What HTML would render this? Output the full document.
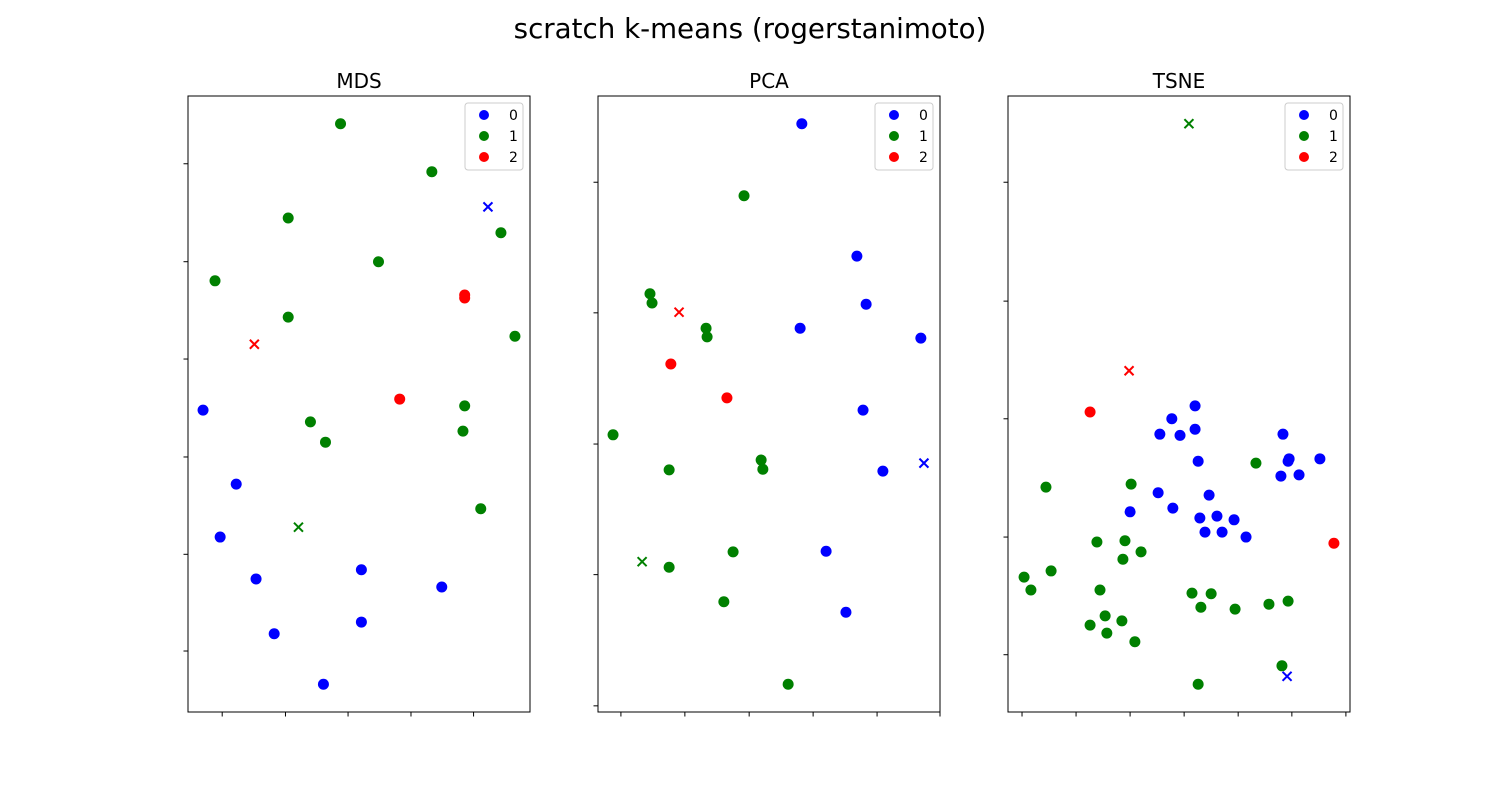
<!DOCTYPE html>
<html><head><meta charset="utf-8"><style>
body{margin:0;background:#fff;}
svg{display:block;font-family:"DejaVu Sans","Liberation Sans",sans-serif;}
</style></head><body>
<svg id="fig" width="1500" height="800" xmlns="http://www.w3.org/2000/svg">
<rect width="1500" height="800" fill="#fff"/>
<text x="750" y="38" text-anchor="middle" font-size="27.7">scratch k-means (rogerstanimoto)</text>
</svg>
<script>
// MDS data (x,y in 0-100 units)
const mdsBlueX=[4.4,14.1,9.4,19.9,25.2,39.6,50.7,50.7,74.2];
const mdsBlueY=[49.0,37.0,28.4,21.6,12.7,4.5,23.1,14.6,20.3];
const mdsGreenX=[44.6,71.3,29.3,91.5,7.9,55.7,29.3,95.6,35.8,40.2,80.9,80.4,85.6];
const mdsGreenY=[95.5,87.7,80.2,77.8,70.0,73.1,64.1,61.0,47.1,43.8,49.7,45.6,33.0];
const mdsRedX=[80.9,80.9,61.9];
const mdsRedY=[67.7,67.2,50.8];
const mdsCentX=[87.7,32.3,19.4];
const mdsCentY=[82.0,30.0,59.7];
// PCA data
const pcaBlueX=[59.6,75.7,78.4,59.1,94.4,77.5,83.3,66.7,72.5];
const pcaBlueY=[95.5,74.0,66.2,62.3,60.7,49.0,39.1,26.1,16.2];
const pcaGreenX=[42.7,15.2,15.8,31.6,31.9,4.4,20.8,47.7,48.2,39.5,20.8,36.8,55.6];
const pcaGreenY=[83.8,67.9,66.4,62.3,60.9,45.0,39.3,40.9,39.4,26.0,23.5,17.9,4.5];
const pcaRedX=[21.3,37.7];
const pcaRedY=[56.5,51.0];
const pcaCentX=[95.3,12.9,23.7];
const pcaCentY=[40.4,24.4,64.9];
// TSNE data
const tsneBlueX=[54.7,47.9,44.4,50.3,54.7,80.4,55.6,82.2,81.9,91.2,79.8,85.1,43.9,58.8,35.7,48.2,56.1,61.1,66.1,57.6,62.6,69.6];
const tsneBlueY=[49.7,47.6,45.1,44.9,45.9,45.1,40.7,41.1,40.7,41.1,38.3,38.5,35.6,35.2,32.5,33.1,31.5,31.8,31.2,29.2,29.2,28.4];
const tsneGreenX=[11.1,36.0,72.5,26.0,34.2,38.9,33.6,4.7,12.6,6.7,26.9,53.8,59.4,56.4,66.4,76.3,81.9,28.4,24.0,33.3,28.9,37.1,80.1,55.6];
const tsneGreenY=[36.5,37.0,40.4,27.6,27.8,26.0,24.8,21.9,22.9,19.8,19.8,19.3,19.2,17.0,16.7,17.5,18.0,15.6,14.1,14.8,12.8,11.4,7.5,4.5];
const tsneRedX=[24.0,95.3];
const tsneRedY=[48.7,27.4];
const tsneCentX=[81.6,52.9,35.4];
const tsneCentY=[5.8,95.5,55.4];
const legendLabels=["0","1","2"];
const colors=["#0000ff","#008000","#ff0000"];

const NS="http://www.w3.org/2000/svg";
const fig=document.getElementById('fig');
function mk(tag,attrs,parent){const e=document.createElementNS(NS,tag);for(const k in attrs)e.setAttribute(k,attrs[k]);parent.appendChild(e);return e;}

const panels=[
 {name:"mds",title:"MDS",left:188,series:[[mdsBlueX,mdsBlueY],[mdsGreenX,mdsGreenY],[mdsRedX,mdsRedY]],cx:mdsCentX,cy:mdsCentY,
  xt:[0.10,0.285,0.468,0.652,0.835],yt:[0.110,0.269,0.427,0.586,0.744,0.901]},
 {name:"pca",title:"PCA",left:598,series:[[pcaBlueX,pcaBlueY],[pcaGreenX,pcaGreenY],[pcaRedX,pcaRedY]],cx:pcaCentX,cy:pcaCentY,
  xt:[0.067,0.254,0.442,0.629,0.816,1.0],yt:[0.140,0.352,0.565,0.777,0.990]},
 {name:"tsne",title:"TSNE",left:1008,series:[[tsneBlueX,tsneBlueY],[tsneGreenX,tsneGreenY],[tsneRedX,tsneRedY]],cx:tsneCentX,cy:tsneCentY,
  xt:[0.041,0.199,0.357,0.515,0.673,0.830,0.988],yt:[0.140,0.333,0.524,0.716,0.907]}
];
const axTop=96,H=616,W=342;
panels.forEach(p=>{
  const g=mk('g',{},fig);
  
  
  const sx=v=>p.left+v/100*W, sy=v=>axTop+H-v/100*H;
  const t=mk('text',{x:p.left+W/2,y:88,'text-anchor':'middle','font-size':20},g);
  t.textContent=p.title;
  
  
  p.series.forEach((s,ci)=>{
    s[0].forEach((xv,i)=>{
      const c=mk('circle',{cx:sx(xv),cy:sy(s[1][i]),r:5.5,fill:colors[ci]},g);
      
      
    });
  });
  p.cx.forEach((xv,ci)=>{
    const x=sx(xv),y=sy(p.cy[ci]),d=4.5;
    const m=mk('path',{d:`M${x-d},${y-d}L${x+d},${y+d}M${x-d},${y+d}L${x+d},${y-d}`,stroke:colors[ci],'stroke-width':2,fill:'none'},g);
    
    
  });
  const fr=mk('rect',{x:p.left,y:axTop,width:W,height:H,fill:'none',stroke:'#000','stroke-width':1},g);
  
  
  p.xt.forEach(f=>{const x=p.left+f*W;const l=mk('line',{x1:x,x2:x,y1:axTop+H,y2:axTop+H+4.5,stroke:'#000'},g);
    
    });
  p.yt.forEach(f=>{const y=axTop+f*H;const l=mk('line',{x1:p.left-4.5,x2:p.left,y1:y,y2:y,stroke:'#000'},g);
    
    });
  const lg=mk('g',{},g);
  
  
  const lx=p.left+W-65;
  mk('rect',{x:lx,y:103,width:58,height:67,rx:3,fill:'#fff','fill-opacity':0.8,stroke:'#ccc'},lg);
  legendLabels.forEach((lab,i)=>{
    const y=115+i*21;
    const c=mk('circle',{cx:lx+19,cy:y,r:5,fill:colors[i]},lg);
    
    
    const tt=mk('text',{x:lx+44,y:y+5,'font-size':14},lg);
    tt.textContent=lab;
    
    
  });
});
</script>
</body></html>
